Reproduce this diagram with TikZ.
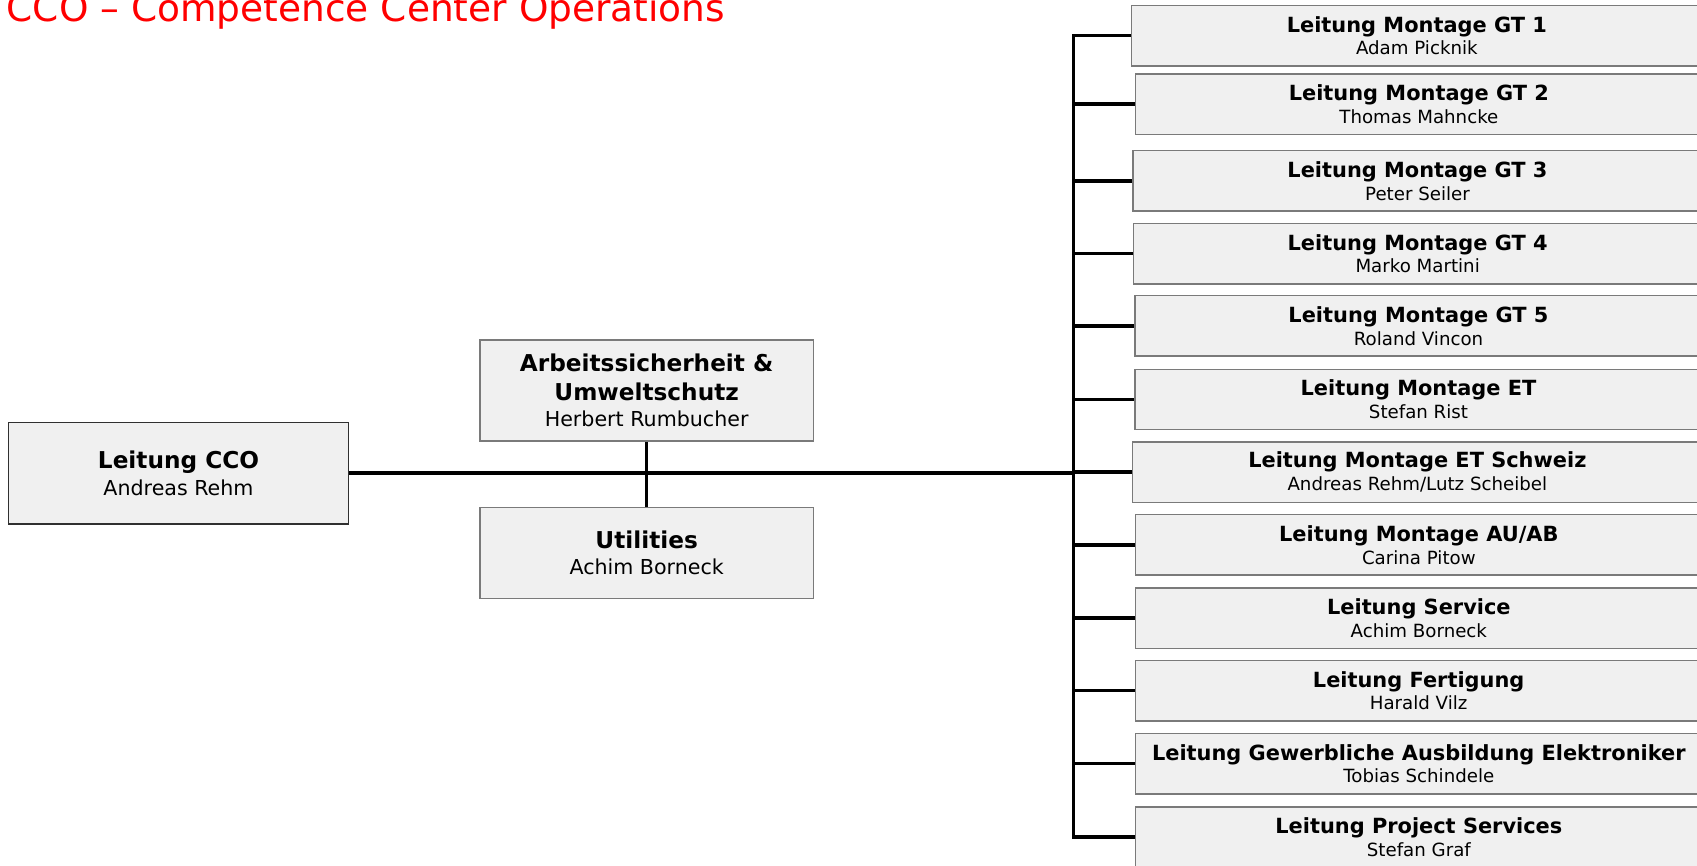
\documentclass[tikz,border=0pt]{standalone}
\usepackage{fontspec}
\setmainfont{DejaVu Sans}
\definecolor{boxfill}{HTML}{F0F0F0}
\definecolor{boxgray}{HTML}{7A7A7A}
\definecolor{ccoborder}{HTML}{303030}
\definecolor{titlered}{HTML}{FF0000}
\newcommand{\bigbold}[1]{{\fontsize{23.2}{26.4}\selectfont\bfseries #1}}
\newcommand{\smallbold}[1]{{\fontsize{20.9}{22.7}\selectfont\bfseries #1}}
\begin{document}
\begin{tikzpicture}[x=1pt,y=-1pt,
  box/.style={draw=boxgray, line width=1.5pt, fill=boxfill, inner sep=0pt,
    align=center, font=\fontsize{20.6}{26.4}\selectfont},
  rbox/.style={box, minimum height=60.3pt, font=\fontsize{18.2}{22.7}\selectfont},
  conn/.style={line width=3.5pt, draw=black},
]
\useasboundingbox (0,0) rectangle (1697,865);

\node[anchor=base west, inner sep=0pt, text=titlered, font=\fontsize{37.5}{40}\selectfont] (title) at (6.6,21.5) {CCO – Competence Center Operations};

\node[box, draw=ccoborder, minimum width=340.4pt, minimum height=101.7pt] (cco) at (178.5,473.15)
  {\bigbold{Leitung CCO}\\Andreas Rehm};
\node[box, minimum width=333.3pt, minimum height=101pt] (asu) at (646.65,390.5)
  {\bigbold{Arbeitssicherheit \&}\\[2.6pt]\bigbold{Umweltschutz}\\Herbert Rumbucher};
\node[box, minimum width=333.3pt, minimum height=91.4pt] (util) at (646.65,553)
  {\bigbold{Utilities}\\Achim Borneck};

\node[rbox, minimum width=570.3pt] (r1) at (1416.85,35.7) {\smallbold{Leitung Montage GT 1}\\Adam Picknik};
\node[rbox, minimum width=566.3pt] (r2) at (1418.85,104.15) {\smallbold{Leitung Montage GT 2}\\Thomas Mahncke};
\node[rbox, minimum width=569pt] (r3) at (1417.5,180.85) {\smallbold{Leitung Montage GT 3}\\Peter Seiler};
\node[rbox, minimum width=568.7pt] (r4) at (1417.65,253.65) {\smallbold{Leitung Montage GT 4}\\Marko Martini};
\node[rbox, minimum width=567pt] (r5) at (1418.5,325.85) {\smallbold{Leitung Montage GT 5}\\Roland Vincon};
\node[rbox, minimum width=567pt] (r6) at (1418.5,399.5) {\smallbold{Leitung Montage ET}\\Stefan Rist};
\node[rbox, minimum width=569.3pt] (r7) at (1417.35,472.15) {\smallbold{Leitung Montage ET Schweiz}\\Andreas Rehm/Lutz Scheibel};
\node[rbox, minimum width=566.3pt] (r8) at (1418.85,544.85) {\smallbold{Leitung Montage AU/AB}\\Carina Pitow};
\node[rbox, minimum width=566.3pt] (r9) at (1418.85,618.15) {\smallbold{Leitung Service}\\Achim Borneck};
\node[rbox, minimum width=566.7pt] (r10) at (1418.65,690.65) {\smallbold{Leitung Fertigung}\\Harald Vilz};
\node[rbox, minimum width=566.3pt] (r11) at (1418.85,763.7) {\smallbold{Leitung Gewerbliche Ausbildung Elektroniker}\\Tobias Schindele};
\node[rbox, minimum width=566.3pt] (r12) at (1418.85,837) {\smallbold{Leitung Project Services}\\Stefan Graf};

\coordinate (bustop) at (1073.3,35.7);
\coordinate (busbot) at (1073.3,837);

\draw[conn] (r1.west) -- (bustop) -- (busbot) -- (r12.west);
\foreach \n in {r2,r3,r4,r5,r6,r7,r8,r9,r10,r11}
  \draw[conn] (\n.west -| bustop) -- (\n.west);

\draw[conn] (cco.east) -- (cco.east -| bustop);
\draw[conn] (asu.south) -- (util.north);
\end{tikzpicture}
\end{document}
